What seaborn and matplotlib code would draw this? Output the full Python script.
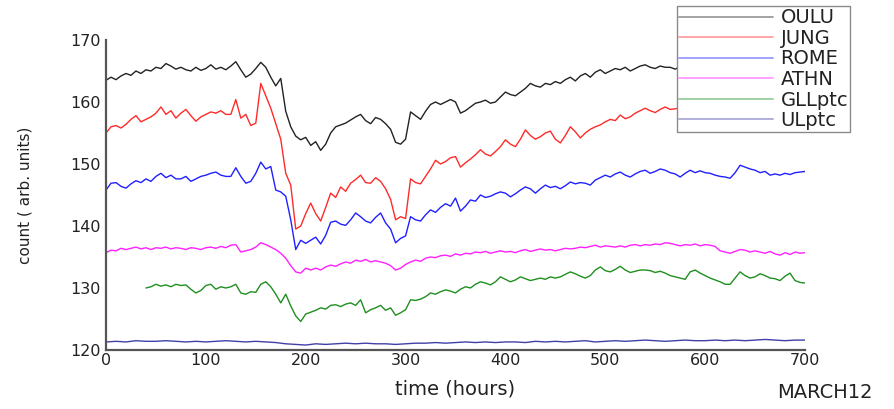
import numpy as np
import pandas as pd
import matplotlib
matplotlib.use("Agg")
import matplotlib.pyplot as plt
from matplotlib.lines import Line2D
import seaborn as sns

# ---- data: neutron-monitor count rates (arb. units), sampled every 5 h ----
HOURS = np.arange(0, 705, 5)

OULU = [
    163.5, 164.0, 163.6, 164.2, 164.6, 164.3, 165.0, 164.6, 165.2, 165.0,
    165.6, 165.4, 166.2, 165.8, 165.3, 165.6, 165.2, 165.0, 165.6, 165.1,
    165.4, 166.0, 165.3, 165.6, 165.2, 165.8, 166.5, 165.2, 164.0, 164.5,
    165.4, 166.4, 165.6, 164.0, 162.6, 163.8, 158.5, 156.0, 154.5, 153.9,
    154.3, 153.0, 153.6, 152.2, 153.2, 155.0, 156.0, 156.3, 156.6, 157.1,
    157.6, 158.0, 157.0, 156.5, 157.5, 157.2, 156.5, 155.6, 153.5, 153.2,
    154.0, 158.4, 157.8, 157.2, 158.5, 159.6, 160.0, 159.6, 160.0, 160.4,
    160.0, 158.2, 158.6, 159.2, 159.8, 160.0, 160.3, 159.8, 160.0, 160.8,
    161.6, 161.2, 161.0, 161.6, 162.2, 163.0, 162.6, 162.4, 163.0, 162.8,
    163.3, 163.0, 163.6, 164.0, 163.4, 164.2, 164.6, 164.0, 164.8, 165.2,
    164.6, 165.0, 165.4, 165.2, 165.6, 165.0, 165.4, 165.8, 166.0, 165.6,
    165.4, 165.8, 165.6, 165.6, 165.3, 165.7, 165.9, 165.5, 165.8, 166.1,
    165.7, 165.9, 166.2, 165.8, 166.0, 166.3, 165.9, 166.1, 166.4, 166.0,
    166.2, 165.8, 166.1, 166.3, 165.9, 166.2, 166.0, 166.3, 166.1, 166.4,
    166.2,
]

JUNG = [
    155.0, 156.0, 156.2, 155.8, 156.4, 157.2, 157.8, 156.8, 157.2, 157.6,
    158.2, 159.2, 158.0, 158.6, 157.4, 158.2, 158.8, 157.8, 156.9, 157.6,
    158.0, 158.4, 158.2, 158.6, 158.0, 158.0, 160.4, 157.4, 158.0, 156.2,
    156.6, 163.0, 161.0, 159.0, 156.5, 154.0, 148.5, 146.6, 139.5, 140.0,
    142.0, 143.7, 142.0, 140.8, 143.0, 145.3, 144.6, 146.3, 145.6, 146.9,
    147.5, 148.2, 147.0, 146.9, 147.8, 147.2, 146.0, 144.3, 141.0, 141.5,
    141.2, 147.6, 147.0, 146.8, 148.0, 149.2, 150.6, 150.0, 150.4, 151.0,
    151.2, 149.5, 150.2, 150.8, 151.5, 152.3, 151.6, 151.3, 152.0, 152.8,
    153.9, 153.2, 152.8, 154.0, 155.5, 154.6, 154.0, 154.4, 155.0, 155.3,
    154.0, 153.4, 154.6, 156.0, 155.2, 154.2, 155.0, 155.6, 156.0, 156.3,
    156.8, 157.2, 157.0, 157.9, 157.3, 157.6, 158.2, 158.6, 159.0, 158.6,
    158.3, 158.8, 159.2, 158.8, 158.9, 159.1, 159.5, 159.2, 159.7, 159.9,
    159.4, 159.8, 160.1, 159.7, 160.0, 160.3, 159.9, 160.2, 160.5, 160.1,
    160.3, 160.0, 160.4, 160.6, 160.2, 160.5, 160.3, 160.6, 160.4, 160.7,
    160.5,
]

ROME = [
    145.8, 146.9, 147.0, 146.4, 146.1, 146.8, 147.3, 147.0, 147.6, 147.2,
    148.0, 148.5, 147.8, 148.2, 147.6, 147.6, 148.0, 147.2, 147.6, 148.0,
    148.2, 148.5, 148.7, 148.2, 148.0, 148.0, 149.4, 148.0, 146.9, 147.2,
    148.5, 150.3, 149.2, 149.6, 145.8, 145.5, 144.8, 141.0, 136.2, 137.7,
    137.2, 137.7, 138.2, 137.1, 138.5, 140.6, 140.8, 140.3, 140.1, 141.0,
    142.1, 141.5, 140.8, 140.5, 141.4, 142.1, 140.5, 139.5, 137.3, 138.0,
    138.4, 141.5, 141.0, 140.8, 141.8, 142.6, 142.2, 143.0, 143.6, 143.2,
    144.5, 142.4, 143.2, 144.2, 144.0, 145.0, 144.6, 144.8, 145.2, 145.5,
    145.3, 144.7, 145.2, 145.8, 146.3, 146.0, 145.3, 146.0, 146.6, 146.2,
    146.4, 146.0, 146.5, 147.1, 146.8, 147.0, 146.9, 146.6, 147.4, 147.8,
    148.2, 147.9, 148.4, 148.7, 148.2, 147.9, 148.4, 148.8, 149.0, 148.5,
    148.8, 149.2, 149.0, 148.6, 148.4, 147.9, 148.5, 149.0, 148.6, 148.9,
    148.6, 148.5, 148.2, 148.0, 147.9, 147.7, 148.6, 149.8, 149.5, 149.2,
    149.0, 148.6, 148.8, 148.2, 148.4, 148.2, 148.5, 148.3, 148.6, 148.7,
    148.8,
]

ATHN = [
    135.7, 136.1, 136.0, 136.4, 136.2, 136.4, 136.6, 136.3, 136.5, 136.2,
    136.5, 136.4, 136.6, 136.3, 136.5, 136.4, 136.2, 136.5, 136.4, 136.2,
    136.5, 136.6, 136.4, 136.7, 136.5, 136.9, 137.0, 135.8, 136.0, 136.2,
    136.6, 137.3, 137.0, 136.6, 136.2, 135.6, 134.8, 133.6, 132.6, 132.4,
    133.2, 132.9, 133.2, 132.9, 133.4, 133.7, 133.5, 133.9, 134.2, 134.0,
    134.5, 134.3, 134.6, 134.2, 134.4, 134.2, 134.0, 133.6, 132.9, 133.2,
    133.8, 134.2, 134.5, 134.3, 134.8, 135.0, 134.9, 135.2, 135.3, 135.1,
    135.5, 135.3, 135.6, 135.5, 135.8, 135.7, 135.9, 135.6, 135.8, 136.0,
    135.8, 135.9, 135.7, 136.0, 136.2, 135.9, 136.1, 136.3, 136.1, 136.2,
    136.0, 136.2, 136.4, 136.3, 136.4, 136.6, 136.5, 136.7, 136.9, 136.6,
    136.8, 136.7, 136.6, 136.8, 136.6, 136.9, 137.0, 136.8, 137.0, 136.9,
    137.1, 137.0, 137.3, 137.2, 137.0, 136.8, 137.0, 136.9, 137.1, 136.8,
    137.0, 136.9, 136.7, 136.0, 135.8, 135.6, 135.9, 136.2, 136.1, 135.8,
    136.0, 135.8, 135.6, 135.9, 135.5, 135.3, 135.7, 135.4, 135.8, 135.6,
    135.7,
]

# GLL record starts at hour 40
GLL_HOURS = np.arange(40, 705, 5)
GLLPTC = [
    130.0, 130.2, 130.6, 130.3, 130.5, 130.2, 130.6, 130.4, 130.5, 129.8,
    129.2, 129.6, 130.4, 130.6, 129.8, 130.2, 130.0, 130.2, 130.6, 129.2,
    129.0, 129.4, 129.3, 130.6, 131.0, 130.2, 129.0, 127.6, 129.0, 127.1,
    125.5, 124.6, 125.8, 126.1, 126.4, 126.8, 126.6, 127.2, 127.3, 127.0,
    127.4, 127.6, 127.2, 128.1, 126.0, 126.5, 126.8, 127.2, 126.4, 126.8,
    125.6, 126.0, 126.5, 128.1, 128.0, 128.2, 128.6, 129.2, 129.0, 129.4,
    129.7, 129.5, 129.2, 129.8, 130.2, 130.0, 130.6, 131.0, 130.8, 130.5,
    131.0, 131.8, 131.4, 131.0, 131.3, 131.8, 131.5, 131.2, 131.4, 131.6,
    131.4, 131.8, 131.6, 131.8, 132.2, 132.6, 132.3, 131.9, 131.6, 132.0,
    132.9, 133.4, 132.8, 132.6, 133.0, 133.5, 132.9, 132.5, 132.7, 132.9,
    132.9, 132.8, 132.5, 132.7, 132.4, 132.0, 131.8, 131.6, 131.4, 132.6,
    132.9, 132.4, 132.0, 131.6, 131.3, 131.0, 130.6, 130.6, 131.6, 132.6,
    132.0, 131.6, 131.8, 132.3, 132.0, 131.6, 131.5, 131.2, 131.9, 132.4,
    131.2, 130.9, 130.8,
]

# UL record, every 10 h
UL_HOURS = np.arange(0, 710, 10)
ULPTC = [
    121.3, 121.4, 121.3, 121.5, 121.4, 121.4, 121.5, 121.4, 121.3, 121.4,
    121.3, 121.4, 121.5, 121.4, 121.3, 121.4, 121.3, 121.2, 121.0, 120.9,
    120.8, 121.0, 120.9, 121.0, 121.1, 121.0, 121.1, 121.0, 121.0, 120.9,
    121.0, 121.1, 121.1, 121.2, 121.1, 121.2, 121.3, 121.2, 121.3, 121.2,
    121.3, 121.3, 121.2, 121.4, 121.3, 121.4, 121.3, 121.4, 121.5, 121.3,
    121.4, 121.5, 121.4, 121.5, 121.6, 121.5, 121.4, 121.5, 121.6, 121.5,
    121.5, 121.6, 121.5, 121.6, 121.5, 121.6, 121.7, 121.6, 121.5, 121.6,
    121.6,
]

STATIONS = ["OULU", "JUNG", "ROME", "ATHN", "GLLptc", "ULptc"]
COLORS = ["#222222", "#ff2a2a", "#2020ff", "#ff20ff", "#1f8f1f", "#4040a8"]

series = [
    (HOURS, OULU), (HOURS, JUNG), (HOURS, ROME), (HOURS, ATHN),
    (GLL_HOURS, GLLPTC), (UL_HOURS, ULPTC),
]
frames = [
    pd.DataFrame({"hour": h, "count": v, "station": name})
    for name, (h, v) in zip(STATIONS, series)
]
df = pd.concat(frames, ignore_index=True)

# ---- figure ----
sns.set_theme(style="white")
plt.rcParams["font.family"] = ["DejaVu Sans"]

fig = plt.figure(figsize=(8.94, 4.09), dpi=100)
ax = fig.add_axes([106 / 894, 1 - 350 / 409, 699 / 894, 310 / 409])

sns.lineplot(
    data=df, x="hour", y="count", hue="station", hue_order=STATIONS,
    palette=dict(zip(STATIONS, COLORS)), estimator=None, sort=False,
    linewidth=1.0, legend=False, ax=ax,
)

ax.set_xlim(0, 700)
ax.set_ylim(120, 170)
ax.set_xticks(range(0, 701, 100))
ax.set_yticks(range(120, 171, 10))

for side in ("top", "right"):
    ax.spines[side].set_visible(False)
for side in ("left", "bottom"):
    ax.spines[side].set_color("#555555")
    ax.spines[side].set_linewidth(1.6)

ax.tick_params(axis="both", length=0, labelsize=11.5, colors="#222222")
ax.tick_params(axis="y", pad=4)
ax.tick_params(axis="x", pad=2)

ax.set_xlabel("time (hours)", fontsize=14, color="#222222")
ax.set_ylabel("count ( arb. units)", fontsize=11, color="#222222")
ax.xaxis.set_label_coords(0.5, -0.095)
ax.yaxis.set_label_coords(-0.105, 0.5)

fig.text(825 / 894, 1 - 393 / 409, "MARCH12", fontsize=14, color="#222222",
         ha="center", va="center")

handles = [Line2D([], [], color=c, lw=1.3, alpha=0.45) for c in COLORS]
leg = ax.legend(
    handles, STATIONS, loc="upper left",
    bbox_to_anchor=(677 / 894, 1 - 6 / 409), bbox_transform=fig.transFigure,
    fontsize=14, frameon=True, fancybox=False, framealpha=1.0,
    edgecolor="#8a8a8a", borderpad=0.12, labelspacing=0.08,
    handlelength=4.8, handletextpad=0.4, borderaxespad=0.0,
)
leg.get_frame().set_linewidth(1.0)
for t in leg.get_texts():
    t.set_color("#222222")

fig.savefig("out.png", dpi=100)
